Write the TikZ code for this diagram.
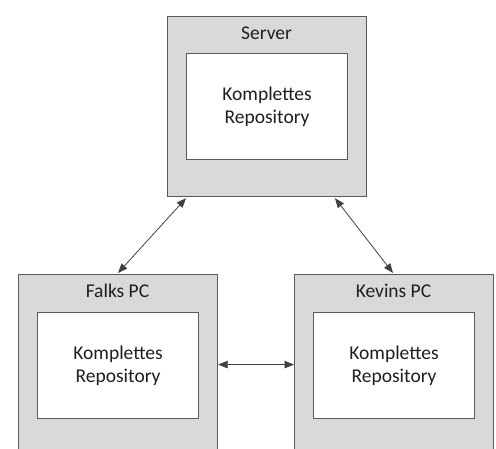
\documentclass[tikz,border=0pt]{standalone}
\usepackage{fontspec}
\setmainfont{Carlito}
\usetikzlibrary{arrows.meta,calc}
\definecolor{boxgray}{HTML}{D9D9D9}
\definecolor{edgegray}{HTML}{595959}
\definecolor{txt}{HTML}{1F1F1F}
\begin{document}
\begin{tikzpicture}[x=1pt,y=-1pt,
  outerbox/.style={draw=edgegray,line width=1.2pt,fill=boxgray,minimum width=199pt,minimum height=180pt,inner sep=0pt,anchor=north west},
  innerbox/.style={draw=edgegray,line width=1.2pt,fill=white,minimum width=161pt,minimum height=106pt,inner sep=0pt,anchor=north west,align=center,text=txt,font=\fontsize{19.5}{23}\selectfont},
  title/.style={text=txt,font=\fontsize{19.5}{23}\selectfont,inner sep=0pt},
  link/.style={draw=black!75,line width=0.8pt,{Triangle[length=9.5pt,width=7.5pt]}-{Triangle[length=9.5pt,width=7.5pt]}}]
\useasboundingbox (0,0) rectangle (496,449);
\clip (0,0) rectangle (496,449);
\node[outerbox] (srv) at (167,16) {};
\node[innerbox] (srvrepo) at (186,53) {Komplettes\\Repository};
\node[title] (srvlbl) at (266.5,33) {Server};
\node[outerbox] (falk) at (18,274) {};
\node[innerbox] (falkrepo) at (37,312) {Komplettes\\Repository};
\node[title] (falklbl) at (117.5,291) {Falks PC};
\node[outerbox] (kev) at (294,274) {};
\node[innerbox] (kevrepo) at (313,312) {Komplettes\\Repository};
\node[title] (kevlbl) at (393.5,291) {Kevins PC};
\draw[link] ([shift={(19pt,-1pt)}]srv.south west) -- ([shift={(100pt,1pt)}]falk.north west);
\draw[link] ([shift={(168pt,-1pt)}]srv.south west) -- ([shift={(99pt,1pt)}]kev.north west);
\draw[link] (falk.east) -- (kev.west);
\end{tikzpicture}
\end{document}
